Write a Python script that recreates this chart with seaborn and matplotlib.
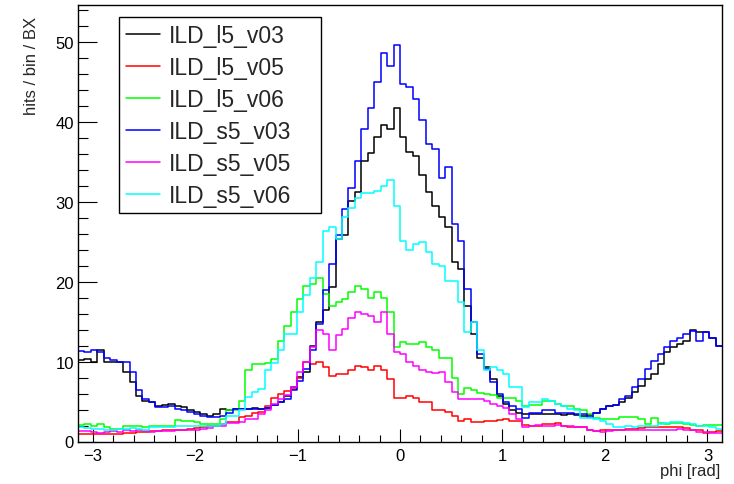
import numpy as np
import matplotlib
matplotlib.use('Agg')
import matplotlib.pyplot as plt
import seaborn as sns
from matplotlib.ticker import MultipleLocator

# hits / bin / BX, 100 bins over phi in [-pi, pi]
ild_l5_v03 = [10.2, 10.3, 10.0, 11.4, 9.9, 9.9, 9.9, 8.7, 7.4, 5.7,
              5.1, 4.9, 4.4, 4.6, 4.7, 4.4, 4.3, 3.9, 3.7, 3.45,
              3.2, 3.5, 4.05, 4.0, 4.05, 4.05, 4.1, 4.2, 4.05, 4.2,
              4.6, 4.9, 5.7, 6.8, 8.1, 8.7, 12.0, 15.0, 16.4, 19.3,
              25.3, 25.8, 30.1, 31.2, 35.1, 36.1, 38.1, 39.6, 39.1, 41.7,
              38.1, 36.2, 35.7, 33.3, 31.2, 29.5, 28.1, 26.8, 22.4, 21.6,
              17.0, 13.5, 10.5, 9.3, 7.8, 5.7, 4.7, 4.0, 3.6, 3.4,
              3.4, 3.5, 3.4, 3.4, 3.4, 3.3, 3.4, 3.3, 3.2, 3.3,
              3.6, 4.1, 4.5, 4.6, 4.9, 5.5, 6.2, 7.0, 7.8, 8.4,
              9.7, 11.2, 11.8, 12.2, 12.6, 13.9, 13.7, 13.7, 13.0, 12.0]

ild_l5_v05 = [1.0, 0.9, 0.9, 1.0, 1.0, 1.0, 1.0, 1.1, 1.1, 1.2,
              1.2, 1.3, 1.3, 1.4, 1.4, 1.5, 1.5, 1.6, 1.7, 1.8,
              1.9, 2.0, 2.2, 2.5, 2.5, 3.1, 3.2, 3.6, 3.7, 4.5,
              5.5, 6.0, 6.3, 6.6, 8.0, 9.9, 9.7, 10.0, 9.3, 8.2,
              8.4, 8.4, 8.9, 9.5, 9.3, 9.0, 9.5, 9.0, 7.8, 5.4,
              5.5, 5.7, 5.4, 5.0, 4.9, 3.9, 3.9, 3.7, 3.2, 2.6,
              2.8, 2.4, 2.4, 2.6, 2.6, 2.7, 2.8, 2.6, 2.6, 2.1,
              2.0, 2.0, 2.2, 2.2, 2.3, 2.0, 1.8, 1.8, 1.8, 1.4,
              1.3, 1.4, 1.4, 1.5, 1.5, 1.6, 1.6, 1.7, 1.8, 1.8,
              1.8, 1.8, 1.8, 1.8, 1.7, 1.5, 1.4, 1.1, 1.2, 1.3]

ild_l5_v06 = [2.1, 2.2, 2.0, 2.2, 1.8, 1.6, 1.6, 1.9, 2.0, 1.9,
              1.8, 2.0, 2.0, 2.0, 2.0, 2.7, 2.6, 2.6, 2.4, 2.2,
              2.2, 2.2, 2.8, 3.9, 3.9, 5.1, 9.0, 9.7, 9.7, 9.8,
              10.3, 12.6, 14.5, 16.2, 17.8, 19.5, 19.7, 20.4, 18.5, 17.0,
              17.4, 17.8, 18.7, 19.4, 19.1, 18.0, 18.7, 17.9, 16.2, 11.8,
              12.5, 12.2, 12.2, 12.4, 11.8, 11.4, 10.5, 10.5, 8.0, 5.9,
              6.7, 6.4, 6.1, 5.9, 5.8, 5.5, 5.4, 5.5, 5.1, 4.5,
              4.6, 4.6, 5.1, 5.1, 4.7, 4.5, 4.5, 4.1, 3.9, 3.4,
              3.0, 2.8, 2.8, 2.8, 3.1, 3.1, 3.1, 2.8, 2.2, 3.0,
              2.3, 2.2, 2.3, 2.3, 2.2, 2.1, 2.0, 2.1, 2.1, 2.1]

ild_s5_v03 = [11.3, 11.2, 11.4, 11.2, 10.4, 10.2, 9.9, 9.9, 8.7, 6.4,
              5.3, 4.9, 4.3, 4.3, 4.4, 4.1, 3.9, 3.7, 3.45, 3.2,
              3.1, 3.1, 3.2, 3.6, 4.05, 4.05, 4.05, 4.05, 4.05, 4.2,
              4.6, 4.9, 5.3, 6.4, 7.6, 9.1, 11.4, 14.7, 18.9, 22.2,
              25.8, 29.1, 31.7, 35.1, 39.1, 41.7, 45.0, 48.6, 47.0, 49.6,
              44.7, 44.3, 42.8, 40.2, 37.2, 36.6, 32.9, 34.3, 27.2, 25.1,
              19.1, 15.0, 11.0, 9.1, 7.4, 5.9, 5.0, 4.4, 4.1, 3.0,
              3.6, 3.6, 3.9, 3.9, 3.6, 3.6, 3.6, 3.4, 3.4, 3.1,
              3.6, 4.1, 4.5, 4.6, 5.3, 5.7, 6.8, 7.8, 9.1, 10.1,
              10.9, 11.8, 12.6, 13.0, 13.4, 13.8, 12.6, 13.7, 13.0, 12.0]

ild_s5_v05 = [1.3, 1.3, 1.2, 1.1, 1.2, 1.3, 1.2, 1.4, 1.3, 1.4,
              1.3, 1.2, 1.3, 1.3, 1.3, 1.4, 1.4, 1.4, 1.5, 1.6,
              1.7, 1.9, 2.0, 2.3, 2.3, 2.4, 2.8, 2.8, 3.4, 3.9,
              4.7, 5.3, 5.8, 6.8, 8.7, 9.9, 11.8, 13.9, 13.5, 11.4,
              13.3, 14.1, 15.4, 16.2, 16.0, 15.7, 14.9, 16.2, 13.5, 11.2,
              11.0, 9.9, 9.4, 8.9, 8.7, 8.6, 8.7, 7.5, 6.2, 5.3,
              5.3, 5.3, 5.3, 5.1, 4.7, 4.5, 4.2, 3.4, 2.8, 1.8,
              2.0, 2.1, 2.0, 2.0, 2.1, 2.0, 1.9, 1.8, 1.8, 1.4,
              1.3, 1.2, 1.3, 1.4, 1.4, 1.4, 1.4, 1.4, 1.4, 1.5,
              1.5, 1.5, 1.5, 1.6, 1.5, 1.4, 1.2, 1.2, 1.1, 1.1]

ild_s5_v06 = [1.8, 1.7, 1.6, 1.6, 1.5, 1.5, 1.6, 1.6, 1.7, 1.6,
              1.5, 1.8, 1.8, 1.8, 1.8, 2.0, 2.0, 2.0, 2.0, 1.9,
              1.9, 1.9, 2.2, 3.2, 3.2, 4.0, 5.6, 6.2, 6.6, 8.9,
              9.8, 11.4, 13.4, 13.5, 16.2, 18.3, 20.5, 22.5, 26.3, 26.8,
              25.3, 28.1, 29.2, 30.4, 31.1, 31.1, 31.3, 32.0, 32.7, 29.5,
              25.1, 23.9, 24.7, 25.0, 23.7, 22.2, 22.0, 20.1, 20.1, 17.4,
              13.7, 14.9, 11.4, 8.9, 9.3, 8.9, 8.5, 6.8, 6.8, 4.3,
              4.9, 5.0, 5.3, 5.1, 4.7, 4.5, 4.1, 3.9, 3.0, 2.9,
              2.8, 2.6, 2.2, 1.8, 1.8, 2.0, 1.8, 2.0, 2.0, 2.0,
              2.2, 2.3, 2.4, 2.5, 2.3, 2.2, 2.0, 2.0, 1.8, 1.6]

labels = ['ILD_l5_v03', 'ILD_l5_v05', 'ILD_l5_v06',
          'ILD_s5_v03', 'ILD_s5_v05', 'ILD_s5_v06']
series = [ild_l5_v03, ild_l5_v05, ild_l5_v06,
          ild_s5_v03, ild_s5_v05, ild_s5_v06]
colors = ['#000000', '#ff0000', '#00ff00', '#0000ff', '#ff00ff', '#00ffff']

nbins = len(ild_l5_v03)

sns.set_style('ticks')
plt.rcParams['font.family'] = ['Liberation Sans', 'DejaVu Sans']

fig = plt.figure(figsize=(7.34, 4.85), dpi=100)
ax = fig.add_axes([78 / 734, 42.5 / 485, 644 / 734, 436.5 / 485])

edges = np.linspace(-np.pi, np.pi, nbins + 1)
centers = 0.5 * (edges[:-1] + edges[1:])
for name, vals, col in zip(labels, series, colors):
    sns.histplot(x=centers, weights=np.asarray(vals), bins=nbins,
                 binrange=(-np.pi, np.pi), element='step', fill=False,
                 color=col, linewidth=1.1, label=name, ax=ax)

ax.set_xlim(-np.pi, np.pi)
ax.set_ylim(0, 54.6)

ax.xaxis.set_major_locator(MultipleLocator(1))
ax.xaxis.set_minor_locator(MultipleLocator(0.2))
ax.yaxis.set_major_locator(MultipleLocator(10))
ax.yaxis.set_minor_locator(MultipleLocator(2))
ax.tick_params(axis='both', which='both', direction='in', labelsize=12,
               colors='black', width=0.8)
ax.tick_params(axis='x', which='major', length=9.5, pad=5)
ax.tick_params(axis='x', which='minor', length=5)
ax.tick_params(axis='y', which='major', length=13.5, pad=3)
ax.tick_params(axis='y', which='minor', length=7)
for sp in ax.spines.values():
    sp.set_visible(True)
    sp.set_color('black')
    sp.set_linewidth(1.0)

ax.set_xlabel('phi [rad]', fontsize=12, ha='right')
ax.set_ylabel('hits / bin / BX', fontsize=12, ha='right')
ax.xaxis.set_label_coords(0.997, -0.05)
ax.yaxis.set_label_coords(-0.06, 0.975)

# legend box as in the ROOT canvas: fixed width, top-left
leg = ax.legend(loc='upper left', bbox_to_anchor=(0.064, 0.5, 0.314, 0.4725),
                mode='expand', borderaxespad=0, fontsize=16.5, frameon=True,
                fancybox=False, framealpha=1, edgecolor='black',
                labelspacing=0.39, handlelength=1.5, handletextpad=0.35,
                borderpad=0.3)
leg.get_frame().set_linewidth(1.0)
for line in leg.get_lines():
    line.set_linewidth(1.1)

plt.savefig('out.png', dpi=100)
plt.close()
